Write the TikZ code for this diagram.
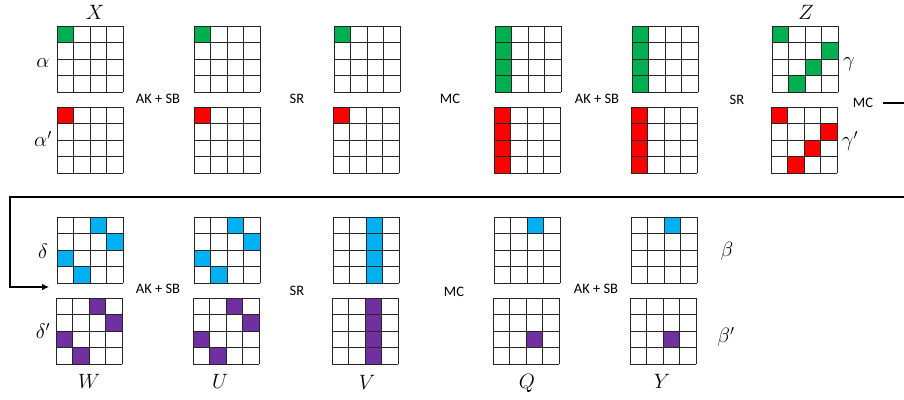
\documentclass[tikz,border=0pt]{standalone}
\usepackage{fontspec}
\newfontfamily\calib{Carlito}
\usetikzlibrary{arrows.meta}
\definecolor{cgreen}{HTML}{00B050}
\definecolor{cred}{HTML}{FF0000}
\definecolor{cblue}{HTML}{00B0F0}
\definecolor{cpurple}{HTML}{7030A0}
\tikzset{
  gridline/.style={draw=black!85, line width=0.9pt},
  mathlbl/.style={inner sep=0pt, font=\fontsize{20}{24}\selectfont},
  oplbl/.style={inner sep=0pt, font=\calib\fontsize{14.5}{16}\selectfont},
  flowline/.style={line width=2.2pt, draw=black},
}
\newcommand\cellgrid[5]{%
  \begin{scope}[shift={(#2,#3)}]
    \foreach \r/\c in {#5} {\fill[#4] (\c*16.6,\r*16.6) rectangle ++(16.6,16.6);}
    \foreach \i in {0,...,4} {
      \draw[gridline] (\i*16.6,0) -- (\i*16.6,66.4);
      \draw[gridline] (0,\i*16.6) -- (66.4,\i*16.6);
    }
    \node[inner sep=0pt, minimum size=66.4pt, anchor=north west] (#1) at (0,0) {};
  \end{scope}}
\begin{document}
\begin{tikzpicture}[x=1pt, y=-1pt]
\useasboundingbox (0,0) rectangle (904,399);
\clip (0,0) rectangle (904,399);
\fill[white] (0,0) rectangle (904,399);
% row 1 (green)
\cellgrid{a1}{57}{26}{cgreen}{0/0}
\cellgrid{a2}{194}{26}{cgreen}{0/0}
\cellgrid{a3}{334}{26}{cgreen}{0/0}
\cellgrid{a4}{495}{26}{cgreen}{0/0,1/0,2/0,3/0}
\cellgrid{a5}{632}{26}{cgreen}{0/0,1/0,2/0,3/0}
\cellgrid{a6}{772}{26}{cgreen}{0/0,1/3,2/2,3/1}
% row 2 (red)
\cellgrid{b1}{57}{107}{cred}{0/0}
\cellgrid{b2}{194}{107}{cred}{0/0}
\cellgrid{b3}{333}{107}{cred}{0/0}
\cellgrid{b4}{494}{107}{cred}{0/0,1/0,2/0,3/0}
\cellgrid{b5}{631}{107}{cred}{0/0,1/0,2/0,3/0}
\cellgrid{b6}{771}{107}{cred}{0/0,1/3,2/2,3/1}
% row 3 (blue)
\cellgrid{c1}{57}{217}{cblue}{0/2,1/3,2/0,3/1}
\cellgrid{c2}{194}{217}{cblue}{0/2,1/3,2/0,3/1}
\cellgrid{c3}{333}{217}{cblue}{0/2,1/2,2/2,3/2}
\cellgrid{c4}{494}{217}{cblue}{0/2}
\cellgrid{c5}{631}{217}{cblue}{0/2}
% row 4 (purple)
\cellgrid{d1}{56}{298}{cpurple}{0/2,1/3,2/0,3/1}
\cellgrid{d2}{193}{298}{cpurple}{0/2,1/3,2/0,3/1}
\cellgrid{d3}{332}{298}{cpurple}{0/2,1/2,2/2,3/2}
\cellgrid{d4}{493}{298}{cpurple}{2/2}
\cellgrid{d5}{630}{298}{cpurple}{2/2}
% math labels
\node[mathlbl] (lX) at (95,12) {$X$};
\node[mathlbl] (lal) at (43,63) {$\alpha$};
\node[mathlbl] (lalp) at (43,139) {$\alpha'$};
\node[mathlbl] (lZ) at (806,12) {$Z$};
\node[mathlbl] (lga) at (849,64) {$\gamma$};
\node[mathlbl] (lgap) at (850,141) {$\gamma'$};
\node[mathlbl] (lde) at (43,251) {$\delta$};
\node[mathlbl] (ldep) at (43,331) {$\delta'$};
\node[mathlbl] (lW) at (89,381) {$W$};
\node[mathlbl] (lU) at (220,381) {$U$};
\node[mathlbl] (lV) at (367,382) {$V$};
\node[mathlbl] (lQ) at (527,383) {$Q$};
\node[mathlbl] (lY) at (662,381) {$Y$};
\node[mathlbl] (lbe) at (727,251) {$\beta$};
\node[mathlbl] (lbep) at (726,337) {$\beta'$};
% operation labels
\node[oplbl] (op1) at (158,99) {AK + SB};
\node[oplbl] (op2) at (297,99) {SR};
\node[oplbl] (op3) at (450,99) {MC};
\node[oplbl] (op4) at (597,99) {AK + SB};
\node[oplbl] (op5) at (737,100) {SR};
\node[oplbl] (op6) at (863,103) {MC};
\node[oplbl] (op7) at (158,289) {AK + SB};
\node[oplbl] (op8) at (297,291) {SR};
\node[oplbl] (op9) at (454,292) {MC};
\node[oplbl] (op10) at (596,289) {AK + SB};
% flow connector
\coordinate (fr1) at (916,103);
\coordinate (fr2) at (916,197);
\coordinate (fl1) at (10,197);
\coordinate (fl2) at (10,287);
\coordinate (fend) at (49,287);
\draw[flowline, -{Latex[length=7pt,width=7pt]}] ([xshift=10pt]op6.east) -- (fr1) -- (fr2) -- (fl1) -- (fl2) -- (fend);
\end{tikzpicture}
\end{document}
